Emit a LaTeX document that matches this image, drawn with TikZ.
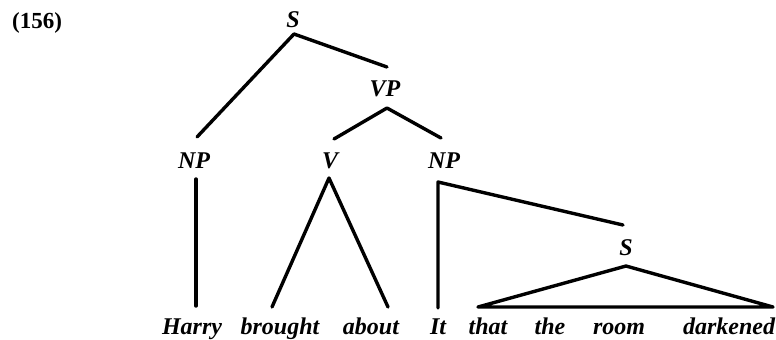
\documentclass[tikz,border=0pt]{standalone}
\usepackage{fontspec}
\setmainfont{Liberation Serif}
\usetikzlibrary{calc}
\tikzset{
  lab/.style={anchor=base,inner sep=0pt,font=\fontsize{12}{14}\selectfont\bfseries\itshape},
  word/.style={anchor=base,inner sep=0pt,font=\fontsize{12}{14}\selectfont\bfseries\itshape},
  num/.style={anchor=base,inner sep=0pt,font=\fontsize{11.5}{13}\selectfont\bfseries},
  branch/.style={line width=1.7pt,line cap=round,line join=round}
}
\begin{document}
\begin{tikzpicture}[x=0.5pt,y=-0.5pt]
\useasboundingbox (0,0) rectangle (776,339);
\node[num] (ex) at (37,28) {(156)};
\node[lab] (S1) at (293,27) {S};
\node[lab] (VP) at (385,96) {VP};
\node[lab] (NP1) at (194,168) {NP};
\node[lab] (V) at (330,168) {V};
\node[lab] (NP2) at (444,168) {NP};
\node[lab] (S2) at (626,255) {S};
\node[word] (w1) at (192,334) {Harry};
\node[word] (w2) at (280,334) {brought};
\node[word] (w3) at (371,334) {about};
\node[word] (w4) at (438,334) {It};
\node[word] (w5) at (488,334) {that};
\node[word] (w6) at (550,334) {the};
\node[word] (w7) at (619,334) {room};
\node[word] (w8) at (729,334) {darkened};
% S -> NP, VP
\draw[branch] ($(NP1.base)+(3,-31)$) -- ($(S1.base)+(1,7)$) -- ($(VP.base)+(2,-29)$);
% VP -> V, NP
\draw[branch] ($(V.base)+(4,-29)$) -- ($(VP.base)+(2,12)$) -- ($(NP2.base)+(-3,-30)$);
% NP -> Harry
\draw[branch] ($(NP1.base)+(2,11)$) -- ($(w1.base)+(4,-28)$);
% V -> brought about
\draw[branch] ($(w2.base)+(-8,-27)$) -- ($(V.base)+(-1,10)$) -- ($(w3.base)+(17,-27)$);
% NP -> It, S
\draw[branch] ($(w4.base)+(0,-26)$) -- ($(NP2.base)+(-6,14)$) -- ($(S2.base)+(-3,-30)$);
% S triangle
\draw[branch] ($(w5.base)+(-10,-27)$) -- ($(S2.base)+(0,11)$) -- ($(w8.base)+(44,-27)$) -- cycle;
\end{tikzpicture}
\end{document}
